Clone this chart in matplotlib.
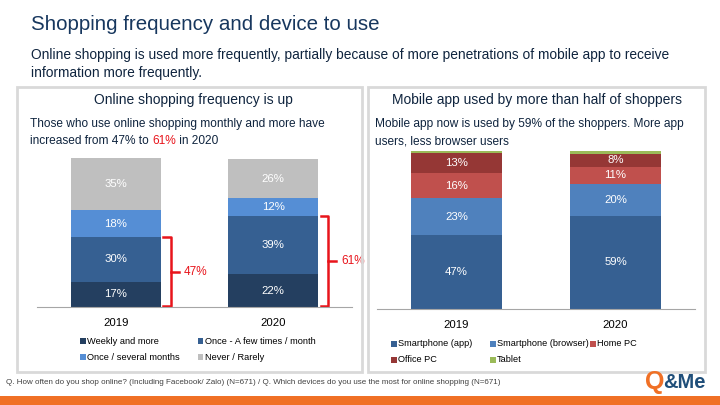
import matplotlib.pyplot as plt
from matplotlib.patches import Rectangle
import numpy as np

plt.rcParams['font.family'] = ['Liberation Sans', 'DejaVu Sans']

# --- data ---
years = ['2019', '2020']

freq_labels = ['Weekly and more', 'Once - A few times / month',
               'Once / several months', 'Never / Rarely']
freq_weekly = [17, 22]
freq_monthly = [30, 39]
freq_several = [18, 12]
freq_never = [35, 26]
freq_total_monthly = [47, 61]

dev_labels = ['Smartphone (app)', 'Smartphone (browser)', 'Home PC',
              'Office PC', 'Tablet']
dev_app = [47, 59]
dev_browser = [23, 20]
dev_home = [16, 11]
dev_office = [13, 8]
dev_tablet = [1, 2]

freq_colors = ['#243F60', '#366092', '#558ED5', '#BFBFBF']
dev_colors = ['#366092', '#4F81BD', '#C0504D', '#953735', '#9BBB59']

W, H = 720, 405
NAVY = '#17375E'
TEXT = '#0F243E'
RED = '#E8141B'

fig = plt.figure(figsize=(7.2, 4.05), dpi=100)


def px_axes(x0, y_top, x1, y_bot):
    # add axes from pixel coordinates (origin top-left)
    return fig.add_axes([x0 / W, 1 - y_bot / H, (x1 - x0) / W, (y_bot - y_top) / H])


def fx(x):
    return x / W


def fy(y):
    return 1 - y / H


# --- header ---
fig.text(fx(31), fy(24), 'Shopping frequency and device to use', fontsize=14.8,
         color=NAVY, va='center', ha='left')
fig.text(fx(31), fy(55), 'Online shopping is used more frequently, partially because of more '
         'penetrations of mobile app to receive', fontsize=9.9, color=TEXT, va='center')
fig.text(fx(31), fy(73), 'information more frequently.', fontsize=9.9, color=TEXT, va='center')

# panel boxes
for x0, x1 in [(17, 362), (368, 705)]:
    fig.patches.append(Rectangle((fx(x0), fy(372)), fx(x1 - x0), (372 - 87) / H,
                                 transform=fig.transFigure, fill=False,
                                 edgecolor='#D9D9D9', linewidth=2))

fig.text(fx(193), fy(100), 'Online shopping frequency is up', fontsize=10,
         color=TEXT, ha='center', va='center')
fig.text(fx(537), fy(100), 'Mobile app used by more than half of shoppers', fontsize=10,
         color=TEXT, ha='center', va='center')

fig.text(fx(30), fy(124), 'Those who use online shopping monthly and more have',
         fontsize=8.6, color=TEXT, va='center')
t1 = fig.text(fx(30), fy(141), 'increased from 47% to ', fontsize=8.6, color=TEXT, va='center')
fig.canvas.draw()
r = fig.canvas.get_renderer()
bb = t1.get_window_extent(r)
t2 = fig.text(bb.x1 / W, fy(141), '61%', fontsize=8.6, color=RED, va='center')
bb2 = t2.get_window_extent(r)
fig.text(bb2.x1 / W, fy(141), ' in 2020', fontsize=8.6, color=TEXT, va='center')

fig.text(fx(375), fy(124), 'Mobile app now is used by 59% of the shoppers. More app',
         fontsize=8.6, color=TEXT, va='center')
fig.text(fx(375), fy(141), 'users, less browser users', fontsize=8.6, color=TEXT, va='center')


def stacked(ax, series, colors, labels, width):
    x = np.arange(len(years))
    bottom = np.zeros(len(years))
    handles = []
    for vals, c, lab in zip(series, colors, labels):
        vals = np.array(vals, dtype=float)
        b = ax.bar(x, vals, width, bottom=bottom, color=c, label=lab)
        handles.append(b)
        for xi, v, b0 in zip(x, vals, bottom):
            if v >= 5:
                ax.text(xi, b0 + v / 2, f'{int(v)}%', color='white', fontsize=8.2,
                        ha='center', va='center')
        bottom += vals
    ax.set_xlim(-0.5, 1.5)
    ax.set_ylim(0, 100)
    ax.set_xticks(x)
    ax.set_xticklabels(years, fontsize=8.2)
    ax.tick_params(axis='x', length=0, pad=8)
    ax.set_yticks([])
    for s in ['top', 'left', 'right']:
        ax.spines[s].set_visible(False)
    ax.spines['bottom'].set_color('#A6A6A6')
    ax.patch.set_alpha(0)
    return handles


# --- left chart ---
ax1 = px_axes(37, 158, 352, 307)
h1 = stacked(ax1, [freq_weekly, freq_monthly, freq_several, freq_never],
             freq_colors, freq_labels, 0.571)

# red brackets for "monthly and more"
for xi, tot, in zip([0, 1], freq_total_monthly):
    xl = xi + 0.30
    xr = xi + 0.35
    y0, y1 = 0.5, tot
    ax1.plot([xl, xr, xr, xl], [y0, y0, y1, y1], color=RED, lw=1.8,
             solid_joinstyle='round', clip_on=False)
    ym = (y0 + y1) / 2
    ax1.plot([xr, xr + 0.05], [ym, ym], color=RED, lw=1.8, clip_on=False)
    ax1.text(xr + 0.08, ym, f'{tot}%', color=RED, fontsize=8.5, va='center',
             ha='left', clip_on=False)

order = [0, 2, 1, 3]
ax1.legend([h1[i] for i in order], [freq_labels[i] for i in order], ncol=2,
           loc='upper left', bbox_to_anchor=(fx(80), fy(337)),
           bbox_transform=fig.transFigure, frameon=False, fontsize=6.7,
           handlelength=0.6, handleheight=0.6, handletextpad=0.2,
           columnspacing=1.9, labelspacing=0.75, borderpad=0, borderaxespad=0)

# --- right chart ---
ax2 = px_axes(377, 151, 695, 309)
h2 = stacked(ax2, [dev_app, dev_browser, dev_home, dev_office, dev_tablet],
             dev_colors, dev_labels, 0.572)

# legend in fixed-width columns, like the slide's own legend
leg_x = [391, 490, 590, 391, 490]
leg_y = [344, 344, 344, 360, 360]
for lab, c, lx, ly in zip(dev_labels, dev_colors, leg_x, leg_y):
    fig.patches.append(Rectangle((fx(lx), fy(ly + 3)), 6 / W, 6 / H,
                                 transform=fig.transFigure, facecolor=c, edgecolor='none'))
    fig.text(fx(lx + 7), fy(ly), lab, fontsize=6.6, color='#000000', va='center')

# --- footer ---
fig.text(fx(6), fy(382), 'Q. How often do you shop online? (Including Facebook/ Zalo) (N=671) / '
         'Q. Which devices do you use the most for online shopping (N=671)',
         fontsize=5.8, color='#404040', va='center')
fig.patches.append(Rectangle((0, 0), 1, 9 / H, transform=fig.transFigure,
                             facecolor='#F07025', edgecolor='none'))
q = fig.text(fx(645), fy(382), 'Q', fontsize=18, fontweight='bold', color='#F07025',
             va='center', ha='left')
bbq = q.get_window_extent(r)
fig.text(bbq.x1 / W - 0.0015, fy(383), '&Me', fontsize=14.5, fontweight='bold',
         color='#1F4E79', va='center', ha='left')

fig.savefig('out.png', dpi=100)
